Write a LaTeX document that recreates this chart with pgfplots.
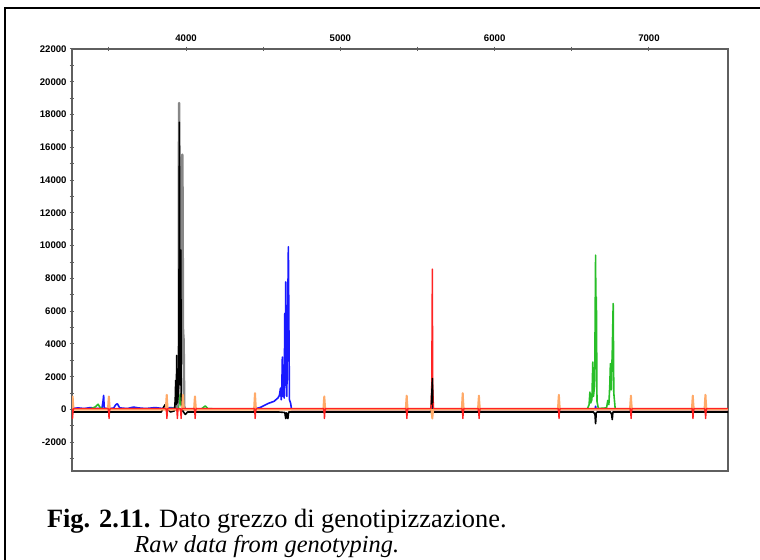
\documentclass[border=0pt]{standalone}
\usepackage{pgfplots}
\pgfplotsset{compat=1.18}
\usepackage{fontspec}
\setmainfont{Liberation Serif}
\newfontfamily\ticksans{Liberation Sans}

\definecolor{tr_orange}{RGB}{255,170,105}
\definecolor{tr_red}{RGB}{255,35,35}
\definecolor{tr_green}{RGB}{40,190,40}
\definecolor{tr_blue}{RGB}{25,25,255}
\definecolor{tr_gray}{RGB}{135,135,135}
\definecolor{axgray}{RGB}{95,95,95}

\begin{document}
\begin{tikzpicture}
\path[use as bounding box] (0,0) rectangle (380pt,280pt);
% outer frame (left and top only, the rest is cropped)
\draw[line width=1.1pt] (2.6pt,0) -- (2.6pt,275.8pt) -- (380pt,275.8pt);

\begin{axis}[
  at={(36pt,44.5pt)}, anchor=south west,
  scale only axis, width=328pt, height=211pt,
  xmin=3261, xmax=7512, ymin=-3750, ymax=22000,
  axis line style={axgray, line width=0.7pt},
  xtick={4000,5000,6000,7000},
  minor xtick={3500,4500,5500,6500},
  ytick={-2000,0,...,22000},
  minor ytick={-3000,-1000,...,21000},
  xtick pos=right, xticklabel pos=right,
  ytick pos=left,
  tick align=center,
  major tick length=2.4pt, minor tick length=2.4pt,
  every tick/.style={axgray, line width=0.5pt},
  ticklabel style={font=\ticksans\fontsize{4.8}{5}\selectfont\bfseries},
  xticklabel style={yshift=-0.8pt},
  yticklabel style={xshift=2pt},
  /pgf/number format/assume math mode=true,
  /pgf/number format/1000 sep={},
  scaled ticks=false,
  clip=true,
  every axis plot/.append style={line width=0.8pt, line join=round},
]

% blue channel
\addplot[tr_blue] coordinates {
(3261,60) (3300,100) (3340,60) (3380,120) (3420,60) (3455,80)
(3462,500) (3466,860) (3470,100) (3480,60) (3530,80) (3545,300)
(3555,350) (3570,100) (3620,60) (3660,150) (3690,100) (3740,60)
(3800,120) (3850,60) (3900,120) (3940,60) (4000,20) (4300,10)
(4440,40) (4480,120) (4532,370) (4570,500) (4595,700) (4605,860)
(4612,1300) (4617,600) (4621,1500) (4624,3200) (4628,800) (4632,2000)
(4636,700) (4640,5870) (4643,1500) (4646,7790) (4649,2000) (4653,800)
(4658,5000) (4663,9930) (4666,6000) (4670,600) (4678,370) (4684,0)
(5590,0) (5596,300) (5600,0) (6650,0) (6654,200) (6658,0) (7512,0)
};

% green channel
\addplot[tr_green] coordinates {
(3261,30) (3380,40) (3410,150) (3430,320) (3445,100) (3470,30)
(3860,30) (3950,100) (3957,500) (3962,950) (3967,300) (3975,40)
(4100,40) (4115,150) (4125,220) (4140,60) (4200,30)
(5585,30) (5594,-350) (5600,30)
(6600,30) (6612,300) (6617,1060) (6622,400) (6630,600) (6636,2900)
(6640,800) (6648,1500) (6654,9420) (6657,3000) (6659,6870) (6663,500)
(6672,60) (6725,100) (6733,550) (6740,300) (6746,1500) (6750,2800)
(6755,1200) (6762,3500) (6768,6470) (6772,1000) (6781,40) (7512,30)
};

% black channel, light outline of the big peak
\addplot[tr_gray, line width=1.3pt] coordinates {
(3930,-50) (3945,300) (3950,1200) (3953,3300) (3955,18700) (3958,4000)
(3962,2500) (3968,3000) (3972,4300) (3976,15550) (3980,4800) (3984,4220)
(3988,200) (3995,-50)
};

% black channel
\addplot[black] coordinates {
(3261,-150) (3840,-150) (3855,150) (3865,300) (3872,100) (3900,-150)
(3925,-80) (3930,600) (3933,1780) (3936,300) (3940,3300) (3944,400)
(3950,1000) (3953,2000) (3957,17530) (3960,2500) (3963,1500) (3966,9730)
(3969,800) (3973,300) (3980,-100) (3995,-300) (4010,-150)
(4440,-150) (4447,200) (4452,-150)
(4600,-150) (4640,-180) (4646,-550) (4650,-200) (4656,-400) (4660,-550) (4665,-150)
(5425,-150) (5430,150) (5436,-150)
(5585,-150) (5590,300) (5594,1400) (5596,1900) (5599,400) (5603,-150)
(5788,-150) (5793,200) (5798,-150) (5893,-150) (5898,150) (5903,-150)
(6640,-150) (6650,-300) (6654,-860) (6658,-200) (6665,-150)
(6750,-150) (6758,-300) (6762,-610) (6766,-150) (6772,-150)
(6878,-150) (6883,200) (6888,-150) (7279,-150) (7284,200) (7289,-150)
(7361,-150) (7366,200) (7371,-150) (7512,-150)
};

% size standard (orange)
\addplot[tr_orange, line width=1pt] coordinates {
(3261,0) (3263,650) (3265,800) (3267,500) (3271,0)
(3494,0) (3498,600) (3500,800) (3502,500) (3506,0)
(3869,0) (3873,650) (3875,900) (3877,550) (3881,0)
(3974,0) (3978,650) (3980,900) (3982,550) (3986,0)
(4052,0) (4056,600) (4058,800) (4060,500) (4064,0)
(4441,0) (4445,700) (4447,1000) (4449,600) (4453,0)
(4890,0) (4894,600) (4896,800) (4898,500) (4902,0)
(5424,0) (5428,600) (5430,850) (5432,500) (5436,0)
(5590,0) (5594,-350) (5596,-550) (5598,-300) (5602,0)
(5787,0) (5791,700) (5793,1000) (5795,600) (5799,0)
(5892,0) (5896,600) (5898,850) (5900,500) (5904,0)
(6410,0) (6414,650) (6416,900) (6418,550) (6422,0)
(6877,0) (6881,600) (6883,850) (6885,500) (6889,0)
(7278,0) (7282,600) (7284,850) (7286,500) (7290,0)
(7360,0) (7364,650) (7366,900) (7368,550) (7372,0)
(7512,0)
};

% red channel
\addplot[tr_red, line width=0.7pt] coordinates {
(3261,60) (3264,-550) (3268,-100) (3272,60)
(3495,60) (3499,-200) (3501,-550) (3504,-100) (3508,60)
(3870,60) (3874,-200) (3876,-550) (3879,-100) (3882,60)
(3940,60) (3944,-550) (3948,60)
(3962,60) (3966,-200) (3968,-550) (3971,-100) (3974,60)
(4053,60) (4057,-200) (4059,-550) (4062,-100) (4066,60)
(4442,60) (4446,-200) (4448,-550) (4451,-100) (4455,60)
(4891,60) (4895,-200) (4897,-550) (4900,-100) (4904,60)
(5425,60) (5429,-200) (5431,-550) (5434,-100) (5438,60)
(5588,60) (5592,1500) (5596,8570) (5599,1200) (5604,60)
(5788,60) (5792,-200) (5794,-550) (5797,-100) (5801,60)
(5893,60) (5897,-200) (5899,-550) (5902,-100) (5906,60)
(6411,60) (6415,-200) (6417,-550) (6420,-100) (6424,60)
(6878,60) (6882,-200) (6884,-550) (6887,-100) (6891,60)
(7279,60) (7283,-200) (7285,-550) (7288,-100) (7292,60)
(7361,60) (7365,-200) (7367,-550) (7370,-100) (7374,60)
(7512,60)
};

% black channel in front of the red peak
\addplot[black, line width=0.7pt] coordinates {
(5590,300) (5594,1400) (5596,1900) (5599,400)
};
\end{axis}

% caption
\node[anchor=base west, inner sep=0pt, font=\fontsize{13.2}{15}\selectfont]
  at (23.3pt,16pt) {\textbf{Fig. 2.11.} Dato grezzo di genotipizzazione.};
\node[anchor=base west, inner sep=0pt, font=\fontsize{12.2}{14}\selectfont\itshape]
  at (67pt,3.5pt) {Raw data from genotyping.};
\end{tikzpicture}
\end{document}
